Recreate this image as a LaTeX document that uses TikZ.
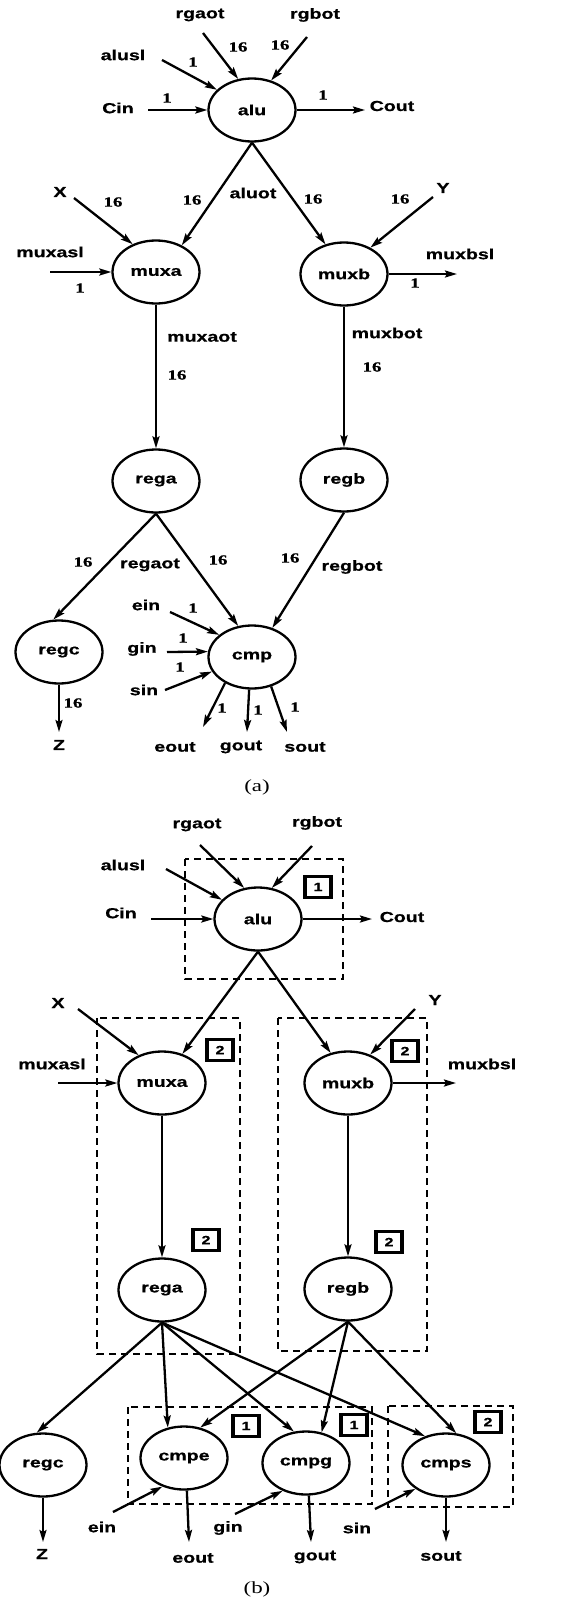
\documentclass[tikz,border=0pt]{standalone}
\usepackage{fontspec}
\usepackage{tikz}
\usetikzlibrary{shapes.geometric, arrows.meta}
\newfontfamily\lblfont[FakeStretch=1.35, BoldFeatures={FakeBold=0.8}]{Liberation Sans}
\newfontfamily\numfont[FakeStretch=1.35, BoldFeatures={FakeBold=0.8}]{Liberation Serif}

\begin{document}
\begin{tikzpicture}[x=1pt, y=-1pt,
  blk/.style={ellipse, draw, line width=2.3pt, minimum width=87pt, minimum height=63pt, inner sep=0pt, font=\lblfont\bfseries\fontsize{14.5}{16}\selectfont},
  lbl/.style={inner sep=1pt, font=\lblfont\bfseries\fontsize{14.5}{16}\selectfont},
  num/.style={inner sep=1pt, font=\numfont\bfseries\fontsize{14}{15}\selectfont},
  capt/.style={inner sep=1pt, font=\numfont\fontsize{17}{18}\selectfont},
  tag/.style={draw, line width=3.5pt, minimum width=26pt, minimum height=21pt, inner sep=0pt, font=\lblfont\bfseries\fontsize{12}{13}\selectfont},
  grp/.style={draw, line width=2.3pt, dash pattern=on 7pt off 5pt},
  arr/.style={-{Stealth[length=12pt, width=7pt, inset=2pt]}, line width=2.3pt}
]
  \useasboundingbox (0,0) rectangle (587,1600);

  % (a)
  \node[blk] (aluA) at (252,110) {alu};
  \node[blk] (muxaA) at (156,272) {muxa};
  \node[blk] (muxbA) at (344,274) {muxb};
  \node[blk] (regaA) at (156,481) {rega};
  \node[blk] (regbA) at (344,480) {regb};
  \node[blk] (regcA) at (59,652) {regc};
  \node[blk] (cmpA) at (252,657) {cmp};

  \node[lbl] (rgaotA) at (200,15) {rgaot};
  \node[lbl] (rgbotA) at (315,15) {rgbot};
  \node[lbl] (aluslA) at (123,55) {alusl};
  \node[lbl] (cinA) at (118,108) {Cin};
  \node[lbl] (coutA) at (392,106) {Cout};
  \node[lbl] (xA) at (60,192) {X};
  \node[lbl] (yA) at (443,188) {Y};
  \node[lbl] (muxaslA) at (50,252) {muxasl};
  \node[lbl] (muxbslA) at (460,254) {muxbsl};
  \node[lbl] (aluotA) at (253,193) {aluot};
  \node[lbl] (muxaotA) at (202,337) {muxaot};
  \node[lbl] (muxbotA) at (387,333) {muxbot};
  \node[lbl] (regaotA) at (150,565) {regaot};
  \node[lbl] (regbotA) at (352,567) {regbot};
  \node[lbl] (einA) at (146,605) {ein};
  \node[lbl] (ginA) at (142,649) {gin};
  \node[lbl] (sinA) at (144,690) {sin};
  \node[lbl] (zA) at (59,745) {Z};
  \node[lbl] (eoutA) at (175,747) {eout};
  \node[lbl] (goutA) at (241,747) {gout};
  \node[lbl] (soutA) at (305,747) {sout};

  \node[num] (w1) at (238,47) {16};
  \node[num] (w2) at (280,45) {16};
  \node[num] (w3) at (193,62) {1};
  \node[num] (w4) at (167,98) {1};
  \node[num] (w5) at (323,95) {1};
  \node[num] (w6) at (113,202) {16};
  \node[num] (w7) at (192,200) {16};
  \node[num] (w8) at (313,199) {16};
  \node[num] (w9) at (400,199) {16};
  \node[num] (w10) at (80,288) {1};
  \node[num] (w11) at (415,283) {1};
  \node[num] (w12) at (177,375) {16};
  \node[num] (w13) at (372,367) {16};
  \node[num] (w14) at (83,562) {16};
  \node[num] (w15) at (218,560) {16};
  \node[num] (w16) at (290,558) {16};
  \node[num] (w17) at (193,608) {1};
  \node[num] (w18) at (183,638) {1};
  \node[num] (w19) at (180,667) {1};
  \node[num] (w20) at (73,703) {16};
  \node[num] (w21) at (222,708) {1};
  \node[num] (w22) at (258,710) {1};
  \node[num] (w23) at (295,707) {1};

  \coordinate (rgaotA-e) at (203,33);
  \coordinate (rgbotA-e) at (307,37);
  \coordinate (aluslA-e) at (162,60);
  \coordinate (cinA-e) at (148,110);
  \coordinate (coutA-e) at (365,110);
  \coordinate (xA-e) at (74,198);
  \coordinate (yA-e) at (433,197);
  \coordinate (muxaslA-e) at (50,272);
  \coordinate (muxbslA-e) at (457,274);
  \coordinate (einA-e) at (170,612);
  \coordinate (ginA-e) at (167,652);
  \coordinate (sinA-e) at (165,690);
  \coordinate (zA-e) at (59,732);
  \coordinate (eoutA-e) at (203,727);
  \coordinate (goutA-e) at (247,732);
  \coordinate (soutA-e) at (287,732);

  \draw[arr] (rgaotA-e) -- (aluA.114);
  \draw[arr] (rgbotA-e) -- (aluA.57);
  \draw[arr] (aluslA-e) -- (aluA.150);
  \draw[arr] (cinA-e) -- (aluA.west);
  \draw[arr] (aluA.east) -- (coutA-e);
  \draw[arr] (aluA.south) -- (muxaA.46);
  \draw[arr] (aluA.south) -- (muxbA.122);
  \draw[arr] (xA-e) -- (muxaA.130);
  \draw[arr] (yA-e) -- (muxbA.45);
  \draw[arr] (muxaslA-e) -- (muxaA.west);
  \draw[arr] (muxbA.east) -- (muxbslA-e);
  \draw[arr] (muxaA.south) -- (regaA.north);
  \draw[arr] (muxbA.south) -- (regbA.north);
  \draw[arr] (regaA.south) -- (regcA.100);
  \draw[arr] (regaA.south) -- (cmpA.114);
  \draw[arr] (regbA.south) -- (cmpA.55);
  \draw[arr] (einA-e) -- (cmpA.146);
  \draw[arr] (ginA-e) -- (cmpA.173);
  \draw[arr] (sinA-e) -- (cmpA.200);
  \draw[arr] (regcA.south) -- (zA-e);
  \draw[arr] (cmpA.224) -- (eoutA-e);
  \draw[arr] (cmpA.265) -- (goutA-e);
  \draw[arr] (cmpA.303) -- (soutA-e);

  \node[capt] (capA) at (257,787) {(a)};

  % (b)
  \draw[grp] (185,859) rectangle (343,979);
  \draw[grp] (97,1018) rectangle (240,1354);
  \draw[grp] (278,1018) rectangle (427,1351);
  \draw[grp] (128,1407) rectangle (372,1504);
  \draw[grp] (388,1406) rectangle (513,1507);

  \node[blk] (aluB) at (258,919) {alu};
  \node[blk] (muxaB) at (162,1083) {muxa};
  \node[blk] (muxbB) at (348,1083) {muxb};
  \node[blk] (regaB) at (162,1290) {rega};
  \node[blk] (regbB) at (348,1289) {regb};
  \node[blk] (regcB) at (43,1465) {regc};
  \node[blk] (cmpeB) at (184,1458) {cmpe};
  \node[blk] (cmpgB) at (306,1463) {cmpg};
  \node[blk] (cmpsB) at (446,1465) {cmps};

  \node[tag] (t1) at (318,887) {1};
  \node[tag] (t2) at (220,1050) {2};
  \node[tag] (t3) at (405,1051) {2};
  \node[tag] (t4) at (206,1240) {2};
  \node[tag] (t5) at (389,1242) {2};
  \node[tag] (t6) at (246,1426) {1};
  \node[tag] (t7) at (354,1425) {1};
  \node[tag] (t8) at (488,1422) {2};

  \node[lbl] (rgaotB) at (197,825) {rgaot};
  \node[lbl] (rgbotB) at (317,823) {rgbot};
  \node[lbl] (aluslB) at (123,865) {alusl};
  \node[lbl] (cinB) at (121,913) {Cin};
  \node[lbl] (coutB) at (402,917) {Cout};
  \node[lbl] (xB) at (58,1003) {X};
  \node[lbl] (yB) at (435,1000) {Y};
  \node[lbl] (muxaslB) at (52,1064) {muxasl};
  \node[lbl] (muxbslB) at (482,1064) {muxbsl};
  \node[lbl] (zB) at (42,1554) {Z};
  \node[lbl] (einB) at (102,1527) {ein};
  \node[lbl] (eoutB) at (193,1558) {eout};
  \node[lbl] (ginB) at (228,1528) {gin};
  \node[lbl] (goutB) at (315,1557) {gout};
  \node[lbl] (sinB) at (357,1528) {sin};
  \node[lbl] (soutB) at (441,1556) {sout};

  \coordinate (rgaotB-e) at (200,845);
  \coordinate (rgbotB-e) at (312,846);
  \coordinate (aluslB-e) at (166,869);
  \coordinate (cinB-e) at (151,919);
  \coordinate (coutB-e) at (372,919);
  \coordinate (xB-e) at (78,1009);
  \coordinate (yB-e) at (415,1009);
  \coordinate (muxaslB-e) at (58,1083);
  \coordinate (muxbslB-e) at (456,1083);
  \coordinate (einB-e) at (113,1512);
  \coordinate (ginB-e) at (235,1514);
  \coordinate (sinB-e) at (375,1509);
  \coordinate (zB-e) at (43,1542);
  \coordinate (eoutB-e) at (189,1542);
  \coordinate (goutB-e) at (311,1542);
  \coordinate (soutB-e) at (446,1542);

  \draw[arr] (rgaotB-e) -- (aluB.114);
  \draw[arr] (rgbotB-e) -- (aluB.66);
  \draw[arr] (aluslB-e) -- (aluB.152);
  \draw[arr] (cinB-e) -- (aluB.west);
  \draw[arr] (aluB.east) -- (coutB-e);
  \draw[arr] (aluB.south) -- (muxaB.55);
  \draw[arr] (aluB.south) -- (muxbB.120);
  \draw[arr] (xB-e) -- (muxaB.130);
  \draw[arr] (yB-e) -- (muxbB.52);
  \draw[arr] (muxaslB-e) -- (muxaB.west);
  \draw[arr] (muxbB.east) -- (muxbslB-e);
  \draw[arr] (muxaB.south) -- (regaB.north);
  \draw[arr] (muxbB.south) -- (regbB.north);
  \draw[arr] (regaB.south) -- (regcB.101);
  \draw[arr] (regaB.south) -- (cmpeB.118);
  \draw[arr] (regaB.south) -- (cmpgB.111);
  \draw[arr] (regaB.south) -- (cmpsB.126);
  \draw[arr] (regbB.south) -- (cmpeB.62);
  \draw[arr] (regbB.south) -- (cmpgB.63);
  \draw[arr] (regbB.south) -- (cmpsB.72);
  \draw[arr] (einB-e) -- (cmpeB.233);
  \draw[arr] (ginB-e) -- (cmpgB.230);
  \draw[arr] (sinB-e) -- (cmpsB.218);
  \draw[arr] (regcB.south) -- (zB-e);
  \draw[arr] (cmpeB.-85) -- (eoutB-e);
  \draw[arr] (cmpgB.-85) -- (goutB-e);
  \draw[arr] (cmpsB.south) -- (soutB-e);

  \node[capt] (capB) at (257,1589) {(b)};
\end{tikzpicture}
\end{document}
